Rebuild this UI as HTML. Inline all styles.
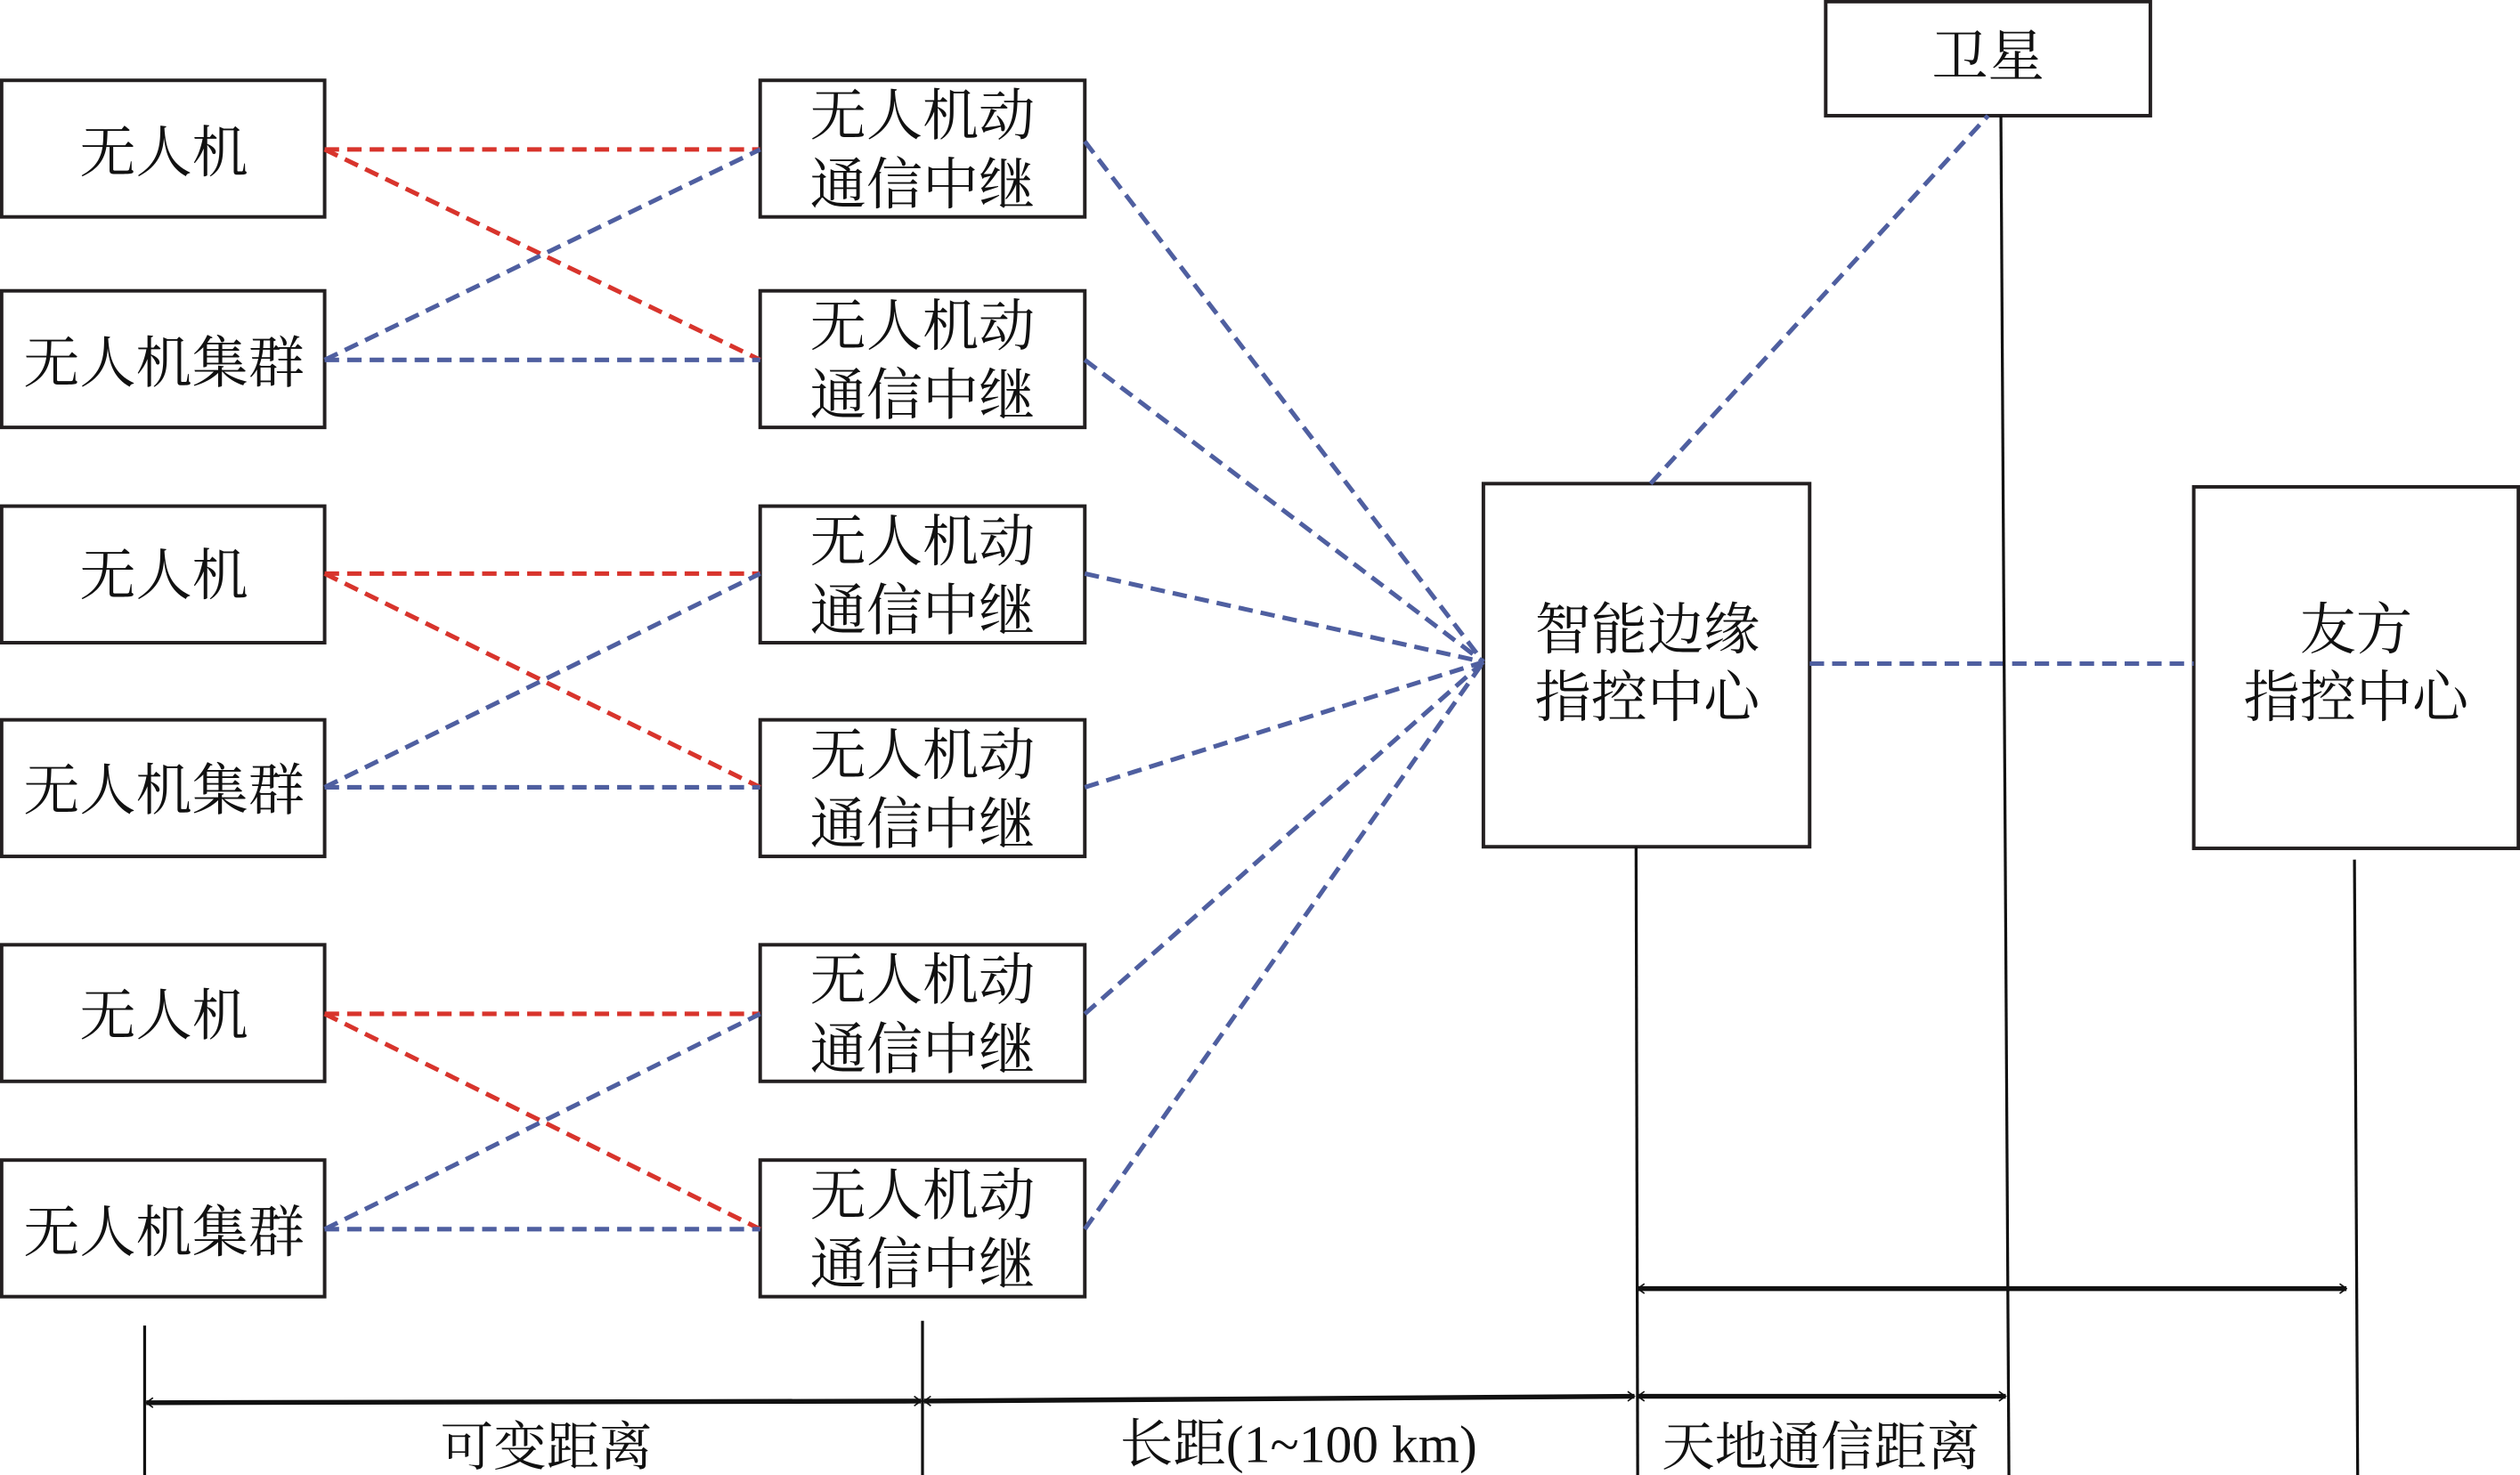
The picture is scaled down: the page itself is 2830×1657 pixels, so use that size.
<!DOCTYPE html>
<html><head><meta charset="utf-8"><style>
html,body{margin:0;padding:0;background:#fff;}
svg{display:block;}
text{font-family:"Liberation Serif","Noto Serif CJK SC","Noto Sans CJK SC",serif;fill:#111;}
</style></head><body>
<svg width="2830" height="1657" viewBox="0 0 1568 918" preserveAspectRatio="none" xmlns="http://www.w3.org/2000/svg">
<defs>
<marker id="ah" viewBox="0 0 10 10" refX="9" refY="5" markerWidth="6" markerHeight="7" orient="auto-start-reverse" markerUnits="userSpaceOnUse">
<path d="M2,0 L9,5 L2,10" fill="none" stroke="#111" stroke-width="1.5"/>
</marker>
</defs>
<g fill="#fff" stroke="#231f20" stroke-width="2.2">
<rect x="1" y="50" width="201" height="85"/>
<rect x="1" y="181" width="201" height="85"/>
<rect x="1" y="315" width="201" height="85"/>
<rect x="1" y="448" width="201" height="85"/>
<rect x="1" y="588" width="201" height="85"/>
<rect x="1" y="722" width="201" height="85"/>
<rect x="473" y="50" width="202" height="85"/>
<rect x="473" y="181" width="202" height="85"/>
<rect x="473" y="315" width="202" height="85"/>
<rect x="473" y="448" width="202" height="85"/>
<rect x="473" y="588" width="202" height="85"/>
<rect x="473" y="722" width="202" height="85"/>
<rect x="923" y="301" width="203" height="226"/>
<rect x="1365" y="303" width="202" height="225"/>
<rect x="1136" y="1" width="202" height="71"/>
</g>
<g stroke="#d8342c" stroke-width="2.8" stroke-dasharray="9,5" fill="none">
<line x1="202" y1="93" x2="473" y2="93"/><line x1="202" y1="93" x2="473" y2="224"/>
<line x1="202" y1="357" x2="473" y2="357"/><line x1="202" y1="357" x2="473" y2="490"/>
<line x1="202" y1="631" x2="473" y2="631"/><line x1="202" y1="631" x2="473" y2="765"/>
</g>
<g stroke="#4f5fa0" stroke-width="2.8" stroke-dasharray="9,5" fill="none">
<line x1="202" y1="224" x2="473" y2="93"/><line x1="202" y1="224" x2="473" y2="224"/>
<line x1="202" y1="490" x2="473" y2="357"/><line x1="202" y1="490" x2="473" y2="490"/>
<line x1="202" y1="765" x2="473" y2="631"/><line x1="202" y1="765" x2="473" y2="765"/>
<line x1="675" y1="88" x2="923" y2="412"/>
<line x1="675" y1="224" x2="923" y2="412"/>
<line x1="675" y1="357" x2="923" y2="412"/>
<line x1="675" y1="490" x2="923" y2="412"/>
<line x1="675" y1="631" x2="923" y2="412"/>
<line x1="675" y1="765" x2="923" y2="412"/>
<line x1="1027" y1="301" x2="1237" y2="72"/>
<line x1="1126" y1="413" x2="1365" y2="413"/>
</g>
<g stroke="#111" stroke-width="1.8" fill="none">
<line x1="1245" y1="72" x2="1250" y2="918"/>
<line x1="1018" y1="527" x2="1019" y2="918"/>
<line x1="1465" y1="535" x2="1467" y2="918"/>
<line x1="90" y1="825" x2="90" y2="918"/>
<line x1="574" y1="822" x2="574" y2="918"/>
</g>
<g stroke="#111" stroke-width="3" fill="none" marker-start="url(#ah)" marker-end="url(#ah)">
<line x1="91" y1="873" x2="573" y2="872"/>
<line x1="575" y1="872" x2="1017" y2="869"/>
<line x1="1019" y1="869" x2="1248" y2="869"/>
<line x1="1019" y1="802" x2="1460" y2="802"/>
</g>
<g font-size="35" text-anchor="middle">
<text x="102" y="107">无人机</text>
<text x="102" y="238">无人机集群</text>
<text x="102" y="370">无人机</text>
<text x="102" y="504">无人机集群</text>
<text x="102" y="644">无人机</text>
<text x="102" y="779">无人机集群</text>
<text x="574" y="84">无人机动</text><text x="574" y="127">通信中继</text>
<text x="574" y="215">无人机动</text><text x="574" y="258">通信中继</text>
<text x="574" y="349">无人机动</text><text x="574" y="392">通信中继</text>
<text x="574" y="482">无人机动</text><text x="574" y="525">通信中继</text>
<text x="574" y="622">无人机动</text><text x="574" y="665">通信中继</text>
<text x="574" y="756">无人机动</text><text x="574" y="799">通信中继</text>
<text x="1025" y="404">智能边缘</text><text x="1025" y="446">指控中心</text>
<text x="1466" y="404">友方</text><text x="1466" y="446">指控中心</text>
<text x="1237" y="47">卫星</text>
<text x="340" y="912" font-size="33">可变距离</text>
<text x="808" y="910" font-size="33">长距(1~100 km)</text>
<text x="1133" y="912" font-size="33">天地通信距离</text>
</g>
</svg>
</body></html>
